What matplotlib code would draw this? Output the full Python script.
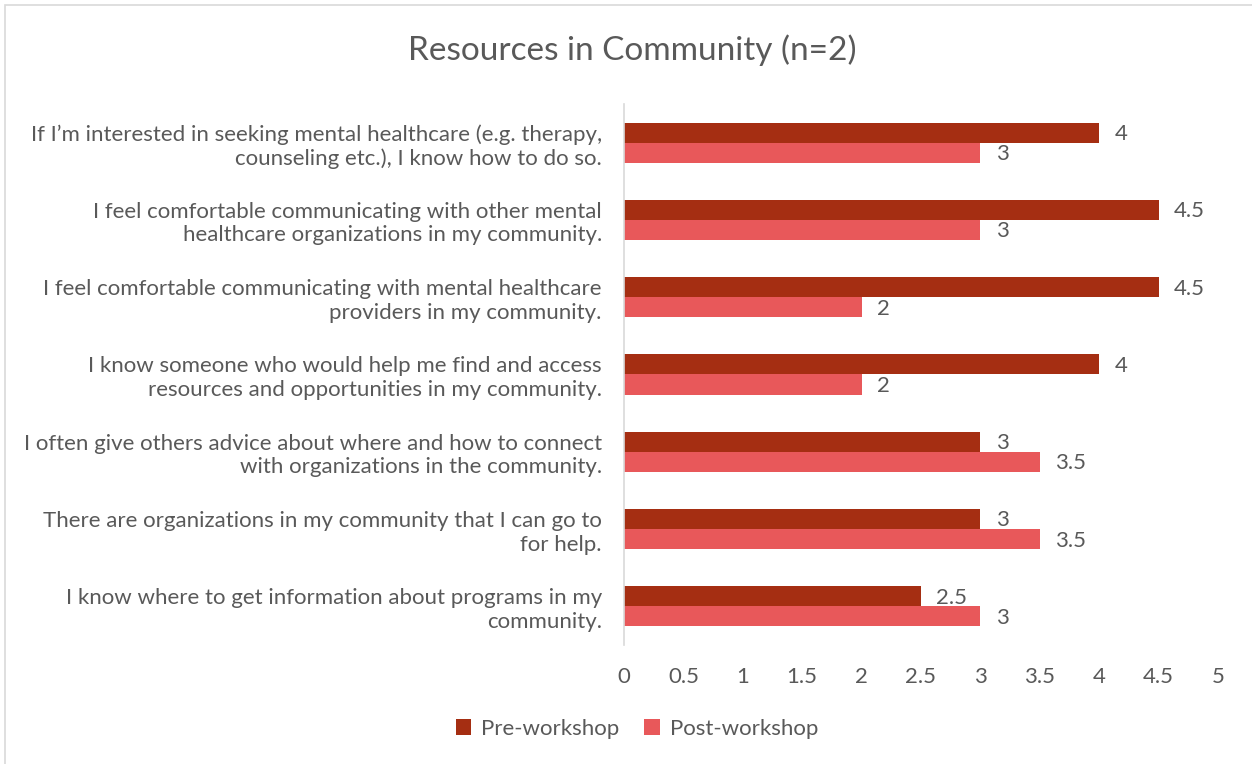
import matplotlib
matplotlib.use("Agg")
import matplotlib.pyplot as plt
from matplotlib.patches import Rectangle
import numpy as np

plt.rcParams['font.family'] = ['Lato', 'DejaVu Sans']

categories = [
    "If I\u2019m interested in seeking mental healthcare (e.g. therapy,\ncounseling etc.), I know how to do so.",
    "I feel comfortable communicating with other mental\nhealthcare organizations in my community.",
    "I feel comfortable communicating with mental healthcare\nproviders in my community.",
    "I know someone who would help me find and access\nresources and opportunities in my community.",
    "I often give others advice about where and how to connect\nwith organizations in the community.",
    "There are organizations in my community that I can go to\nfor help.",
    "I know where to get information about programs in my\ncommunity.",
]
pre_workshop = [4, 4.5, 4.5, 4, 3, 3, 2.5]
post_workshop = [3, 3, 2, 2, 3.5, 3.5, 3]
x_ticks = [0, 0.5, 1, 1.5, 2, 2.5, 3, 3.5, 4, 4.5, 5]
x_tick_labels = ["0", "0.5", "1", "1.5", "2", "2.5", "3", "3.5", "4", "4.5", "5"]

PRE_COLOR = "#A52E12"
POST_COLOR = "#E8585A"
TEXT = "#595959"
FS = 16

fig = plt.figure(figsize=(12.52, 7.64), dpi=100)
fig.patches.append(Rectangle((5 / 1252, -0.01), 1.02, 1 - 5 / 764 + 0.01,
                             transform=fig.transFigure, fill=False,
                             edgecolor="#D9D9D9", linewidth=1.2))

ax = fig.add_axes([624 / 1252, 1 - 645 / 764, 594 / 1252, 541 / 764])

y = np.arange(len(categories))
h = 0.26
ax.barh(y - h / 2, pre_workshop, height=h, color=PRE_COLOR, label="Pre-workshop")
ax.barh(y + h / 2, post_workshop, height=h, color=POST_COLOR, label="Post-workshop")

for yi, v in zip(y - h / 2, pre_workshop):
    ax.annotate(f"{v:g}", (v, yi), xytext=(11, -1), textcoords="offset points",
                va="center", ha="left", color=TEXT, fontsize=FS)
for yi, v in zip(y + h / 2, post_workshop):
    ax.annotate(f"{v:g}", (v, yi), xytext=(11, -1), textcoords="offset points",
                va="center", ha="left", color=TEXT, fontsize=FS)

ax.set_xlim(0, 5)
ax.set_ylim(len(categories) - 0.5, -0.5)
ax.set_xticks(x_ticks)
ax.set_xticklabels(x_tick_labels)
ax.set_yticks(y)
ax.set_yticklabels(categories, ha="right", linespacing=1.22)
ax.tick_params(axis="both", length=0, colors=TEXT, labelsize=FS)
ax.tick_params(axis="x", pad=16)
ax.tick_params(axis="y", pad=16)

for s in ["top", "right", "bottom"]:
    ax.spines[s].set_visible(False)
ax.spines["left"].set_color("#D9D9D9")
ax.spines["left"].set_linewidth(1.2)

fig.text(632 / 1252, 1 - 50 / 764, "Resources in Community (n=2)", ha="center",
         va="center", fontsize=24, color=TEXT)

fig.legend(loc="center", bbox_to_anchor=(637 / 1252, 1 - 729 / 764), ncol=2,
           frameon=False, fontsize=FS, handlelength=0.7, handleheight=0.7,
           handletextpad=0.45, columnspacing=1.1, labelcolor=TEXT)

fig.savefig("out.png", dpi=100, facecolor="white")
